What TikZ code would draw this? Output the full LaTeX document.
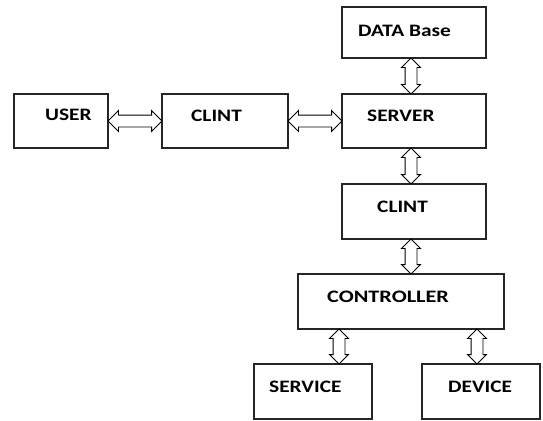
\documentclass[tikz,border=0pt]{standalone}
\usepackage{fontspec}
\usepackage{graphicx}
\setmainfont{Carlito}
\usetikzlibrary{shapes.arrows,calc}
\begin{document}
\begin{tikzpicture}[x=1pt,y=-1pt,
  box/.style={draw=black!85, line width=1.3pt, inner sep=0pt},
  lbl/.style={anchor=west, inner sep=0pt, font=\fontsize{17.5}{18}\selectfont\bfseries, text=black},
  darr/.style={double arrow, draw=black, line width=0.9pt, inner sep=5.5pt,
    double arrow head extend=4.5pt, fill=white},
  varr/.style={darr, rotate=90, double arrow head extend=3.5pt}]
\useasboundingbox (0,0) rectangle (543,420);
% boxes
\node[box, minimum width=144pt, minimum height=51pt] (db)   at (414,32.5) {};
\node[box, minimum width=94pt,  minimum height=54pt] (user) at (61,121) {};
\node[box, minimum width=126pt, minimum height=54pt] (clint) at (225,121) {};
\node[box, minimum width=144pt, minimum height=54pt] (server) at (414,121) {};
\node[box, minimum width=144pt, minimum height=55pt] (clint2) at (414,211.5) {};
\node[box, minimum width=206pt, minimum height=55pt] (ctrl) at (401,301.5) {};
\node[box, minimum width=118pt, minimum height=55pt] (service) at (313,391.5) {};
\node[box, minimum width=118pt, minimum height=55pt] (device) at (481,391.5) {};
% labels
\node[lbl] (tuser) at (45,115) {\scalebox{1.22}[1]{USER}};
\node[lbl] (tclint) at (191,116) {\scalebox{1.22}[1]{CLINT}};
\node[lbl] (tserver) at (367,116) {\scalebox{1.22}[1]{SERVER}};
\node[lbl] (tdb) at (358,31) {\scalebox{1.22}[1]{DATA Base}};
\node[lbl] (tclint2) at (377,207) {\scalebox{1.22}[1]{CLINT}};
\node[lbl] (tctrl) at (327,297) {\scalebox{1.27}[1]{CONTROLLER}};
\node[lbl] (tservice) at (269,387) {\scalebox{1.22}[1]{SERVICE}};
\node[lbl] (tdevice) at (448,387) {\scalebox{1.22}[1]{DEVICE}};
% arrow end points below the controller
\path (ctrl.south -| service.north) ++(26,0) coordinate (c6t);
\path (service.north) ++(26,0) coordinate (c6b);
\path (ctrl.south -| device.north) ++(-4,0) coordinate (c7t);
\path (device.north) ++(-4,0) coordinate (c7b);
% arrows
\node[darr, minimum height=54pt] (a1) at ($(user.east)!0.5!(clint.west)$) {};
\node[darr, minimum height=54pt] (a2) at ($(clint.east)!0.5!(server.west)$) {};
\node[varr, minimum height=36pt] (a3) at ($(db.south)!0.5!(server.north)+(-3,0)$) {};
\node[varr, minimum height=36pt] (a4) at ($(server.south)!0.5!(clint2.north)+(-3,0)$) {};
\node[varr, minimum height=35pt] (a5) at ($(clint2.south)!0.5!(ctrl.north)+(3.5,0)$) {};
\node[varr, minimum height=35pt] (a6) at ($(c6t)!0.5!(c6b)$) {};
\node[varr, minimum height=35pt] (a7) at ($(c7t)!0.5!(c7b)$) {};
\end{tikzpicture}
\end{document}
